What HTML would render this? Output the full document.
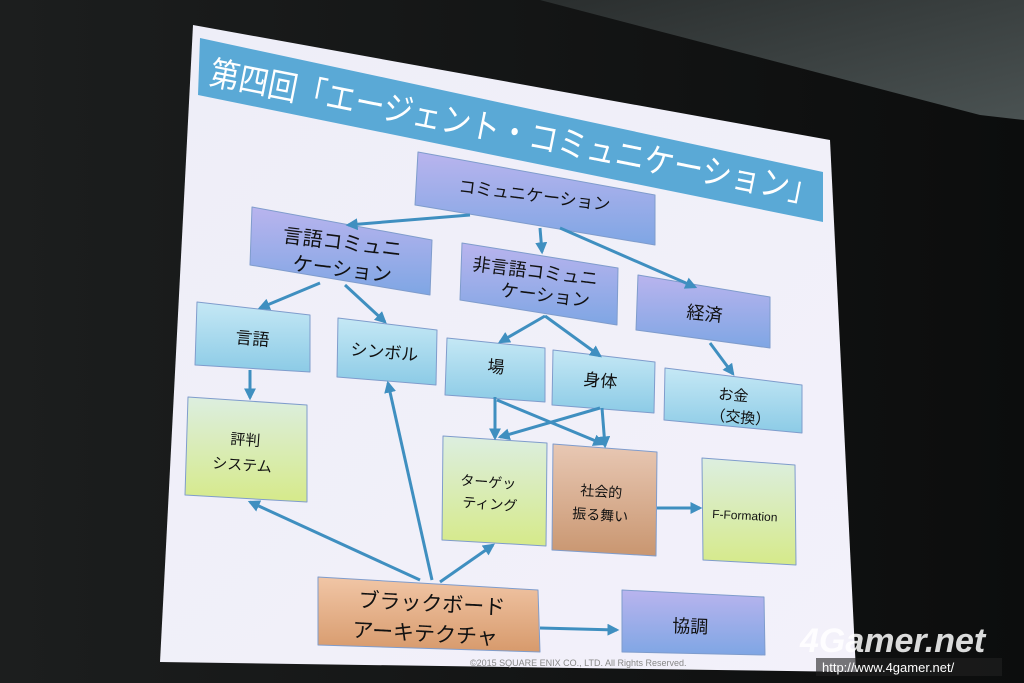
<!DOCTYPE html>
<html><head><meta charset="utf-8"><style>
html,body{margin:0;padding:0;background:#111;}
svg{display:block}
text{font-family:"Liberation Sans","Noto Sans CJK JP",sans-serif;}
</style></head><body>
<svg width="1024" height="683" viewBox="0 0 1024 683" xmlns="http://www.w3.org/2000/svg">
<defs>
<linearGradient id="bg" x1="0" y1="0" x2="1" y2="0"><stop offset="0" stop-color="#1c1e1e"/><stop offset="1" stop-color="#0c0d0d"/></linearGradient>
<linearGradient id="top" x1="0" y1="0" x2="1" y2="1"><stop offset="0" stop-color="#2a2e2e"/><stop offset="1" stop-color="#4a5252"/></linearGradient>
<linearGradient id="blue" x1="0" y1="0" x2="0" y2="1"><stop offset="0" stop-color="#b9b4ee"/><stop offset="1" stop-color="#7fa6e4"/></linearGradient>
<linearGradient id="lblue" x1="0" y1="0" x2="0" y2="1"><stop offset="0" stop-color="#c5e8f5"/><stop offset="1" stop-color="#8ccbe6"/></linearGradient>
<linearGradient id="green" x1="0" y1="0" x2="0" y2="1"><stop offset="0" stop-color="#dceee0"/><stop offset="1" stop-color="#d6ea8a"/></linearGradient>
<linearGradient id="orange" x1="0" y1="0" x2="0" y2="1"><stop offset="0" stop-color="#f1c6a6"/><stop offset="1" stop-color="#d79a6c"/></linearGradient>
<linearGradient id="brown" x1="0" y1="0" x2="0" y2="1"><stop offset="0" stop-color="#e8c8b4"/><stop offset="1" stop-color="#c99670"/></linearGradient>
<linearGradient id="slide" x1="0" y1="0" x2="1" y2="1"><stop offset="0" stop-color="#eeeef8"/><stop offset="1" stop-color="#f3f1fa"/></linearGradient>
<marker id="ah" viewBox="0 0 10 10" refX="8" refY="5" markerWidth="4" markerHeight="4" orient="auto"><path d="M0,0L10,5L0,10z" fill="#3f8fc0"/></marker>
</defs>
<rect width="1024" height="683" fill="url(#bg)"/>
<polygon points="540,0 1024,0 1024,120 980,115" fill="url(#top)"/>
<polygon points="193,25 830,140 856,672 160,662" fill="url(#slide)"/>
<polygon points="200,38 823,172 823,222 198,95" fill="#5aa9d6"/>
<text x="0" y="0" transform="translate(208,84) rotate(11.2)" font-size="34" fill="#fff" textLength="620" lengthAdjust="spacingAndGlyphs">第四回「エージェント・コミュニケーション」</text>

<g stroke="#7f9ccc" stroke-width="1" stroke-linejoin="round">
<polygon points="418,152 655,195 655,245 415,205" fill="url(#blue)"/>
<polygon points="252,207 432,240 430,295 250,265" fill="url(#blue)"/>
<polygon points="462,243 618,268 617,325 460,300" fill="url(#blue)"/>
<polygon points="638,275 770,297 770,348 636,330" fill="url(#blue)"/>
<polygon points="197,302 310,315 310,372 195,365" fill="url(#lblue)"/>
<polygon points="338,318 437,330 436,385 337,377" fill="url(#lblue)"/>
<polygon points="447,338 545,348 545,402 445,395" fill="url(#lblue)"/>
<polygon points="553,350 655,362 654,413 552,405" fill="url(#lblue)"/>
<polygon points="665,368 802,385 802,433 664,420" fill="url(#lblue)"/>
<polygon points="188,397 307,405 307,502 185,495" fill="url(#green)"/>
<polygon points="443,436 547,443 546,546 442,540" fill="url(#green)"/>
<polygon points="553,444 657,452 656,556 552,550" fill="url(#brown)"/>
<polygon points="702,458 795,465 796,565 703,560" fill="url(#green)"/>
<polygon points="318,577 538,590 540,652 318,645" fill="url(#orange)"/>
<polygon points="622,590 764,597 765,655 622,652" fill="url(#blue)"/>
</g>

<g stroke="#3f8fc0" stroke-width="3" fill="none" marker-end="url(#ah)">
<line x1="470" y1="215" x2="348" y2="225"/>
<line x1="540" y1="228" x2="542" y2="252"/>
<line x1="560" y1="228" x2="695" y2="287"/>
<line x1="320" y1="283" x2="260" y2="308"/>
<line x1="345" y1="285" x2="385" y2="322"/>
<line x1="545" y1="316" x2="500" y2="342"/>
<line x1="545" y1="316" x2="600" y2="356"/>
<line x1="710" y1="343" x2="733" y2="374"/>
<line x1="250" y1="370" x2="250" y2="398"/>
<line x1="495" y1="397" x2="495" y2="438"/>
<line x1="497" y1="400" x2="603" y2="444"/>
<line x1="600" y1="408" x2="500" y2="437"/>
<line x1="602" y1="408" x2="605" y2="446"/>
<line x1="657" y1="508" x2="700" y2="508"/>
<line x1="420" y1="580" x2="250" y2="502"/>
<line x1="432" y1="580" x2="388" y2="383"/>
<line x1="440" y1="582" x2="493" y2="545"/>
<line x1="540" y1="628" x2="617" y2="630"/>
</g>

<g font-size="17" fill="#111">
<text transform="translate(458,192) rotate(7)">コミュニケーション</text>
<text transform="translate(282,242) rotate(7)" font-size="20">言語コミュニ</text>
<text transform="translate(292,270) rotate(7)" font-size="20">ケーション</text>
<text transform="translate(472,270) rotate(7)" font-size="18">非言語コミュニ</text>
<text transform="translate(500,296) rotate(7)" font-size="18">ケーション</text>
<text transform="translate(686,318) rotate(6)" font-size="18">経済</text>
<text transform="translate(235,343) rotate(5)">言語</text>
<text transform="translate(350,355) rotate(5)">シンボル</text>
<text transform="translate(487,372) rotate(5)">場</text>
<text transform="translate(583,385) rotate(5)">身体</text>
<text transform="translate(718,399) rotate(5)" font-size="15">お金</text>
<text transform="translate(710,420) rotate(5)" font-size="15">（交換）</text>
<text transform="translate(230,444) rotate(4)" font-size="15">評判</text>
<text transform="translate(212,468) rotate(4)" font-size="15">システム</text>
<text transform="translate(460,485) rotate(4)" font-size="14">ターゲッ</text>
<text transform="translate(462,507) rotate(4)" font-size="14">ティング</text>
<text transform="translate(580,495) rotate(4)" font-size="14">社会的</text>
<text transform="translate(572,518) rotate(4)" font-size="14">振る舞い</text>
<text transform="translate(712,518) rotate(3)" font-size="12">F-Formation</text>
<text transform="translate(358,607) rotate(3)" font-size="21">ブラックボード</text>
<text transform="translate(352,637) rotate(3)" font-size="21">アーキテクチャ</text>
<text transform="translate(672,632) rotate(2)" font-size="18">協調</text>
</g>
<text transform="translate(470,666)" font-size="9" fill="#888">©2015 SQUARE ENIX CO., LTD. All Rights Reserved.</text>
<text x="800" y="652" font-size="34" font-weight="bold" fill="#fff" fill-opacity="0.85" font-style="italic">4Gamer.net</text>
<rect x="816" y="658" width="186" height="18" fill="#222" fill-opacity="0.6"/>
<text x="822" y="672" font-size="13" fill="#fff">http://www.4gamer.net/</text>
</svg>
</body></html>
